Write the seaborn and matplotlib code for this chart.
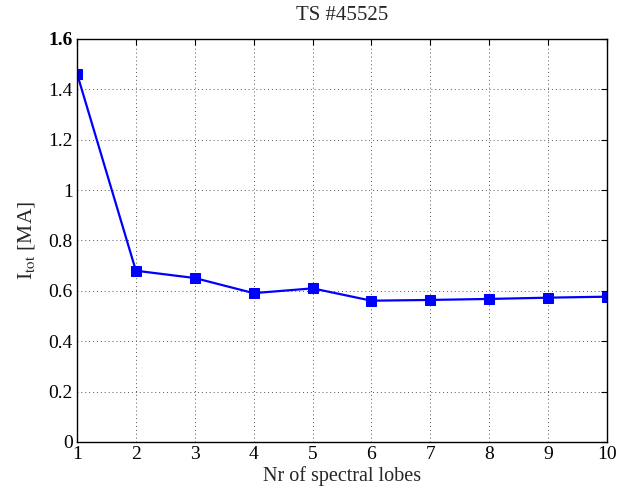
import matplotlib
matplotlib.use("Agg")
import matplotlib.pyplot as plt
import seaborn as sns
import pandas as pd

lobes = [1, 2, 3, 4, 5, 6, 7, 8, 9, 10]
itot = [1.463, 0.680, 0.651, 0.591, 0.610, 0.561, 0.564, 0.568, 0.573, 0.577]
yticks = [0, 0.2, 0.4, 0.6, 0.8, 1, 1.2, 1.4, 1.6]
ytick_labels = ["0", "0.2", "0.4", "0.6", "0.8", "1", "1.2", "1.4", "1.6"]

sns.set_style("white")
plt.rcParams['font.family'] = ['Liberation Serif', 'DejaVu Serif']
plt.rcParams['mathtext.fontset'] = 'stix'

df = pd.DataFrame({"lobes": lobes, "itot": itot})

fig = plt.figure(figsize=(6.18, 4.91), dpi=100)
ax = fig.add_axes([77 / 618, 49 / 491, 530 / 618, 403 / 491])
sns.lineplot(data=df, x="lobes", y="itot", ax=ax, color="#0000ff", linewidth=1.6,
             marker="s", markersize=6.5, markeredgecolor="#0000ff", markerfacecolor="#0000ff")

ax.set_xlim(1, 10)
ax.set_ylim(0, 1.6)
ax.set_xticks(lobes)
ax.set_xticklabels([str(v) for v in lobes])
ax.set_yticks(yticks)
ax.set_yticklabels(ytick_labels)
ax.get_yticklabels()[-1].set_fontweight("bold")
ax.grid(True, linestyle=(0, (1, 3)), color="#555555", linewidth=0.7)
ax.tick_params(direction="in", length=4, width=0.8, top=True, right=True,
               labelsize=14, pad=3, colors="black")
for s in ax.spines.values():
    s.set_visible(True)
    s.set_color("black")
    s.set_linewidth(1.0)

ax.set_xlabel("Nr of spectral lobes", fontsize=14.5, labelpad=2)
ax.set_ylabel(r"I$_{\mathrm{tot}}$ [MA]", fontsize=15.5, labelpad=8)
ax.set_title("TS #45525", fontsize=15, pad=14)

fig.savefig("out.png", dpi=100)
